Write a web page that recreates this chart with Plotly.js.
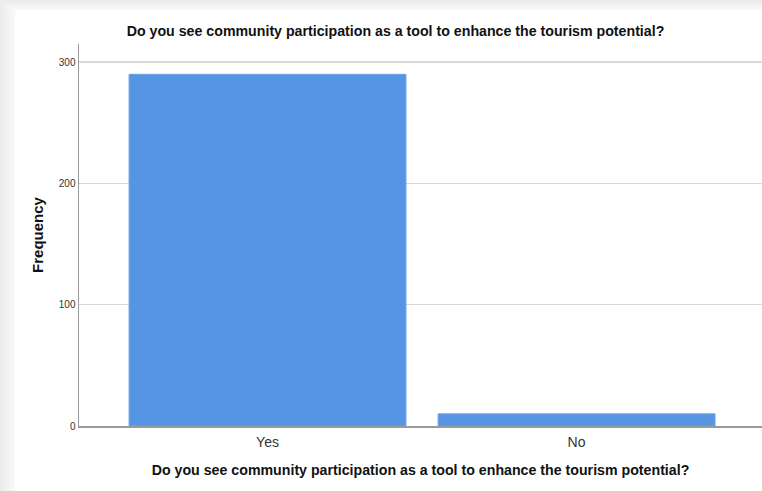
<!DOCTYPE html>
<html><head><meta charset="utf-8">
<script src="https://cdn.plot.ly/plotly-3.0.1.min.js"></script>
<style>html,body{margin:0;padding:0;background:#fff}#chart{width:762px;height:491px}</style>
</head><body><div id="chart"></div>
<script>
const categories = ["Yes", "No"];
const frequencies = [290, 10];
const yTicks = [0, 100, 200, 300];
const titleText = "Do you see community participation as a tool to enhance the tourism potential?";

const trace = {
  type: "bar",
  x: categories,
  y: frequencies,
  width: 0.896,
  marker: {color: "#5595e4", line: {color: "#6aa3ea", width: 1}},
  hoverinfo: "x+y"
};

const shapes = [];
// light drop shadow of the screenshot frame (left and top)
const shades = ["#ececec", "#efefef", "#f2f2f2", "#f5f5f5", "#f8f8f8"];
for (let i = 0; i < shades.length; i++) {
  shapes.push({type: "rect", xref: "paper", yref: "paper", layer: "below",
    x0: (-79 + i * 3) / 683, x1: (-79 + (i + 1) * 3) / 683, y0: -65 / 382, y1: (382 + 44 - i * 2) / 382,
    fillcolor: shades[i], line: {width: 0}});
  shapes.push({type: "rect", xref: "paper", yref: "paper", layer: "below",
    x0: (-79 + i * 3) / 683, x1: 1, y0: (382 + 44 - (i + 1) * 2) / 382, y1: (382 + 44 - i * 2) / 382,
    fillcolor: shades[i], line: {width: 0}});
}

const layout = {
  width: 762, height: 491,
  margin: {l: 79, r: 0, t: 44, b: 65},
  paper_bgcolor: "#ffffff",
  plot_bgcolor: "#ffffff",
  font: {family: "Liberation Sans, Arial, sans-serif", color: "#222"},
  showlegend: false,
  title: {text: "<b>" + titleText + "</b>", font: {size: 14.2, color: "#111"},
    x: 395.5 / 762, xref: "container", xanchor: "center", y: 1 - 31 / 491, yref: "container", yanchor: "middle"},
  xaxis: {
    range: [-0.61, 1.60],
    showgrid: false, zeroline: false,
    showline: true, linecolor: "#9a9a9a", linewidth: 1.5,
    ticks: "", ticklen: 0, ticklabelstandoff: 3, tickfont: {size: 14, color: "#333"},
    title: {text: "<b>" + titleText + "</b>", font: {size: 14.2, color: "#111"}, standoff: 16}
  },
  yaxis: {
    range: [0, 315],
    tickvals: yTicks, ticktext: yTicks.map(String),
    showgrid: true, gridcolor: "#d8d8d8", gridwidth: 1.5,
    zeroline: false,
    showline: true, linecolor: "#9a9a9a", linewidth: 1.5,
    ticks: "", ticklen: 0, tickfont: {size: 10, color: "#333"},
    title: {text: "<b>Frequency</b>", font: {size: 15, color: "#111"}, standoff: 11}
  },
  shapes: shapes
};

Plotly.newPlot("chart", [trace], layout, {displayModeBar: false, staticPlot: true});
</script></body></html>
